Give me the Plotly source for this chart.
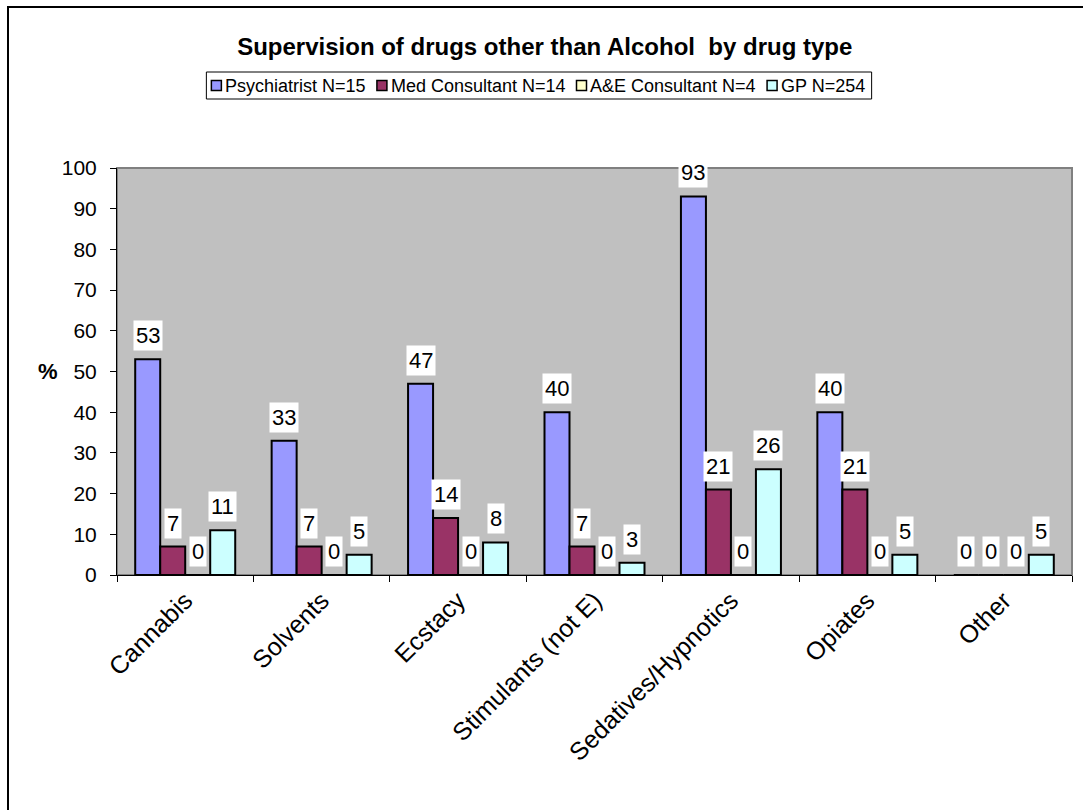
import plotly.graph_objects as go

# Drug categories and percentage of respondents supervising each
categories = ["Cannabis", "Solvents", "Ecstacy", "Stimulants (not E)",
              "Sedatives/Hypnotics", "Opiates", "Other"]
psychiatrist = [53, 33, 47, 40, 93, 40, 0]
med_consultant = [7, 7, 14, 7, 21, 21, 0]
ae_consultant = [0, 0, 0, 0, 0, 0, 0]
gp = [11, 5, 8, 3, 26, 5, 5]

series_names = ["Psychiatrist N=15", "Med Consultant N=14",
                "A&E Consultant N=4", "GP N=254"]
series_values = [psychiatrist, med_consultant, ae_consultant, gp]
series_colors = ["#9999FF", "#993366", "#FFFFCC", "#CCFFFF"]

y_ticks = list(range(0, 101, 10))

FONT = "Arial, Liberation Sans, sans-serif"
BARGAP = 0.267
bar_w = (1 - BARGAP) / len(series_values)

# figure geometry (pixels)
W, H = 1083, 810
ML, MR, MT, MB = 117, 11, 168, 235
PW, PH = W - ML - MR, H - MT - MB


def px(x):
    """pixel column -> paper x"""
    return (x - ML) / PW


def py(y):
    """pixel row -> paper y"""
    return (H - MB - y) / PH


fig = go.Figure()
for name, vals, col in zip(series_names, series_values, series_colors):
    fig.add_trace(go.Bar(
        x=categories, y=vals, name=name, showlegend=False,
        marker=dict(color=col, line=dict(color="black", width=2)),
    ))

annotations = []
shapes = []

# value labels on white boxes above each bar
n = len(series_values)
for i, vals in enumerate(series_values):
    for k, v in enumerate(vals):
        annotations.append(dict(
            x=k + (i - (n - 1) / 2) * bar_w, y=v, xref="x", yref="y",
            text=str(v), showarrow=False, yanchor="bottom", yshift=8,
            bgcolor="white", borderpad=2,
            font=dict(family=FONT, size=22, color="black"),
        ))

# "%" axis caption
annotations.append(dict(
    x=-0.085, y=50, xref="paper", yref="y", text="<b>%</b>",
    showarrow=False, font=dict(family=FONT, size=22, color="black"),
))

# compact Excel-style legend: small outlined swatch right next to its text
HELV = {" ": 278, "&": 667, "=": 584, "A": 667, "C": 722, "E": 667,
        "G": 778, "M": 833, "N": 722, "P": 667, "a": 556, "c": 500,
        "d": 556, "e": 556, "h": 556, "i": 222, "l": 222, "n": 556,
        "o": 556, "r": 333, "s": 500, "t": 278, "u": 556, "y": 500}
LEG_FS = 18
SW, SW_GAP, ITEM_GAP, PAD = 10, 3, 10, 5


def text_w(s):
    return sum(HELV.get(c, 556) for c in s) * LEG_FS / 1000 + 2


widths = [text_w(s) for s in series_names]
total = 2 * PAD + len(widths) * (SW + SW_GAP) + sum(widths) \
    + ITEM_GAP * (len(widths) - 1)
leg_cx, leg_top, leg_bot = 539, 72, 99
leg_cy = (leg_top + leg_bot) / 2
x0 = leg_cx - total / 2
shapes.append(dict(type="rect", xref="paper", yref="paper",
                   x0=px(x0), x1=px(x0 + total), y0=py(leg_bot), y1=py(leg_top),
                   fillcolor="white", line=dict(color="black", width=1)))
cur = x0 + PAD
for name, col, w in zip(series_names, series_colors, widths):
    shapes.append(dict(type="rect", xref="paper", yref="paper",
                       x0=px(cur), x1=px(cur + SW),
                       y0=py(leg_cy + SW / 2), y1=py(leg_cy - SW / 2),
                       fillcolor=col, line=dict(color="black", width=1.5)))
    cur += SW + SW_GAP
    annotations.append(dict(
        x=px(cur), y=py(leg_cy), xref="paper", yref="paper",
        xanchor="left", yanchor="middle", text=name, showarrow=False,
        borderpad=0, font=dict(family=FONT, size=LEG_FS, color="black"),
    ))
    cur += w + ITEM_GAP

# plot-area frame and chart-area border
shapes.append(dict(type="rect", xref="paper", yref="paper", x0=0, x1=1,
                   y0=0, y1=1, line=dict(color="#808080", width=2),
                   layer="below"))
shapes.append(dict(type="rect", xref="paper", yref="paper",
                   x0=px(8), x1=px(W + 20), y0=py(H + 20), y1=py(7),
                   line=dict(color="black", width=2)))

fig.update_layout(
    width=W, height=H,
    margin=dict(l=ML, r=MR, t=MT, b=MB),
    paper_bgcolor="white", plot_bgcolor="#C0C0C0",
    barmode="group", bargap=BARGAP, bargroupgap=0,
    font=dict(family=FONT, size=20, color="black"),
    title=dict(
        text="<b>Supervision of drugs other than Alcohol\u00a0 by drug type</b>",
        x=0.503, xref="container", y=1 - 47 / H, yref="container",
        xanchor="center", yanchor="middle",
        font=dict(family=FONT, size=24, color="black"),
    ),
    xaxis=dict(
        type="category", tickangle=-45, tickson="boundaries",
        ticks="outside", ticklen=6, tickcolor="black",
        showline=True, linecolor="black", linewidth=1,
        showgrid=False, tickfont=dict(family=FONT, size=25),
    ),
    yaxis=dict(
        range=[0, 100], tickvals=y_ticks, ticks="outside", ticklen=6,
        tickcolor="black", showline=True, linecolor="black", linewidth=1,
        showgrid=False, zeroline=False, tickfont=dict(family=FONT, size=21),
        ticklabelstandoff=9,
    ),
    annotations=annotations, shapes=shapes,
    showlegend=False,
)

fig.write_html("out.html")
